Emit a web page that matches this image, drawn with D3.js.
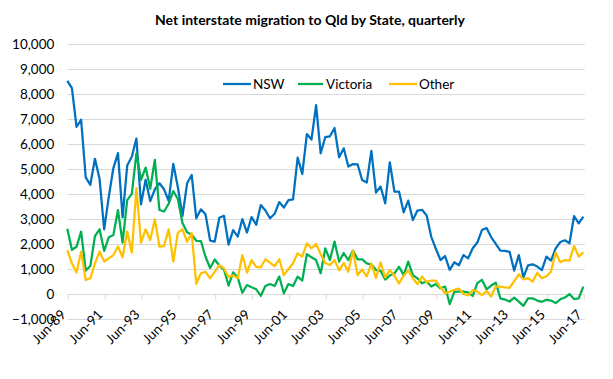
<!DOCTYPE html>
<html>
<head>
<meta charset="utf-8">
<script src="https://cdn.jsdelivr.net/npm/d3@7"></script>
<style>
  html, body { margin: 0; padding: 0; background: #fff; }
  svg { display: block; }
  text { font-family: Lato, "Open Sans", "Liberation Sans", sans-serif; fill: #000; }
</style>
</head>
<body>
<div id="chart"></div>
<script>
// ---------- DATA ----------
const title = "Net interstate migration to Qld by State, quarterly";
const seriesNames = ["NSW", "Victoria", "Other"];
const seriesColors = ["#0070C0", "#00B050", "#FFC000"];

// quarterly categories Jun-89 .. Jun-17
const monthNames = ["Mar", "Jun", "Sep", "Dec"];
const categories = [];
for (let y = 1989, q = 1; !(y === 2017 && q === 2); ) {
  categories.push(monthNames[q] + "-" + String(y % 100).padStart(2, "0"));
  q++; if (q === 4) { q = 0; y++; }
}
categories.push("Jun-17");

const tickLabels = ["Jun-89","Jun-91","Jun-93","Jun-95","Jun-97","Jun-99","Jun-01","Jun-03",
                    "Jun-05","Jun-07","Jun-09","Jun-11","Jun-13","Jun-15","Jun-17"];
const yTicks = [-1000,0,1000,2000,3000,4000,5000,6000,7000,8000,9000,10000];

const nsw = [8540,8250,6700,6980,4680,4380,5420,4620,2600,3900,
             5050,5650,3080,5150,5500,6230,3600,4580,3730,4200,
             4440,4200,3740,5220,4280,3140,4440,4770,3040,3400,
             3200,2150,2110,3060,3140,1990,2570,2310,3010,2470,
             3090,2780,3570,3350,3040,3220,3690,3470,3770,3800,
             5470,4810,6410,6190,7570,5640,6290,6320,6650,5480,
             5840,5110,5210,5200,4570,4470,5740,4070,4310,3640,
             5280,4110,4110,3280,3750,2970,3350,3380,3150,2300,
             1820,1370,1530,980,1280,1160,1570,1440,1840,2070,
             2570,2650,2290,2020,1750,1740,1700,950,1570,680,
             1160,1200,1110,970,1510,1350,1840,2090,2160,2040,
             3130,2840,3110];

const victoria = [2620,1780,1900,2510,950,1130,2330,2600,1740,2280,
                  2370,3370,2070,3770,4020,5640,4580,5070,4220,5380,
                  3370,3310,3620,4130,3810,2850,2480,2380,2140,2130,
                  1500,1050,1390,1150,990,350,880,660,60,370,
                  280,200,-60,330,410,330,710,40,410,330,
                  710,550,1610,1480,1370,840,1840,1370,2110,1310,
                  1650,1370,1750,1400,1400,1240,1190,970,940,590,
                  750,840,1100,770,1310,770,640,440,510,310,
                  410,240,310,-390,100,110,110,80,-60,450,
                  580,200,350,460,-160,-210,-290,-130,-290,-460,
                  -160,-160,-250,-300,-220,-250,-350,-200,-130,10,
                  -190,-160,310];

const other = [1770,1240,870,1710,570,640,1240,1710,1310,1440,
               1570,1910,1480,2510,1670,4250,2070,2600,2170,3000,
               1910,1930,2600,1310,2470,2600,2100,2440,420,840,
               900,640,900,1170,1040,680,770,640,1570,870,
               1370,1100,1080,1400,1270,1130,1400,770,1000,1240,
               1640,1510,2040,1840,2010,1600,1250,1170,1370,960,
               1250,900,1750,770,990,720,1230,650,1280,680,
               970,740,440,740,950,640,410,710,480,550,
               550,280,50,100,180,230,10,-50,170,110,
               -30,130,-90,320,310,280,260,530,800,600,
               650,510,850,640,720,910,1670,1280,1370,1350,
               1930,1510,1680];

const seriesValues = [nsw, victoria, other];

// ---------- LAYOUT ----------
const W = 613, H = 379;
const plotLeft = 67.3, plotRight = 583.3, plotTop = 44.3, plotBottom = 319.3;

const svg = d3.select("#chart").append("svg").attr("width", W).attr("height", H);

const x = d3.scalePoint().domain(categories).range([plotLeft, plotRight]);
const y = d3.scaleLinear().domain([-1000, 10000]).range([plotBottom, plotTop]);

// gridlines
svg.append("g").selectAll("line").data(yTicks).join("line")
  .attr("x1", plotLeft).attr("x2", plotRight + 1.5)
  .attr("y1", d => Math.round(y(d)) + 0.5).attr("y2", d => Math.round(y(d)) + 0.5)
  .attr("stroke", "#d9d9d9").attr("stroke-width", 1);

// y axis labels
const yAxis = d3.axisLeft(y).tickValues(yTicks).tickSize(0).tickPadding(0)
  .tickFormat(d => d3.format(",")(d));
const yg = svg.append("g").attr("transform", `translate(${plotLeft - 13},0)`).call(yAxis);
yg.select(".domain").remove();
yg.selectAll("text").attr("font-size", 13.5).attr("font-family", "Lato, sans-serif").attr("fill", "#000");

// x axis at zero
const xAxis = d3.axisBottom(x).tickValues(tickLabels).tickSize(5).tickPadding(2);
const xg = svg.append("g").attr("transform", `translate(0,${Math.round(y(0)) + 0.5})`).call(xAxis);
xg.select(".domain").attr("stroke", "#d9d9d9").attr("d", `M${plotLeft},0H${plotRight + 1.5}`);
xg.selectAll(".tick line").attr("stroke", "#d9d9d9").attr("transform", "translate(0.5,0)");
xg.selectAll(".tick text")
  .attr("font-size", 13.5).attr("font-family", "Lato, sans-serif").attr("fill", "#000")
  .attr("text-anchor", "end")
  .attr("x", 0).attr("y", 0).attr("dy", 0)
  .attr("transform", "translate(-1,21) rotate(-45)");

// lines
const line = d3.line().x((d, i) => x(categories[i])).y(d => y(d));
svg.append("g").selectAll("path").data(seriesValues).join("path")
  .attr("d", d => line(d))
  .attr("fill", "none")
  .attr("stroke", (d, i) => seriesColors[i])
  .attr("stroke-width", 2.25)
  .attr("stroke-linejoin", "round");

// title
svg.append("text").attr("x", 310).attr("y", 25)
  .attr("text-anchor", "middle").attr("font-size", 14).attr("font-weight", "bold")
  .text(title);

// legend
const legendItems = [
  { x1: 223, x2: 251, tx: 253 },
  { x1: 298, x2: 323, tx: 326 },
  { x1: 389, x2: 417, tx: 419 }
];
const lg = svg.append("g");
seriesNames.forEach((name, i) => {
  const it = legendItems[i];
  lg.append("line").attr("x1", it.x1).attr("x2", it.x2).attr("y1", 84).attr("y2", 84)
    .attr("stroke", seriesColors[i]).attr("stroke-width", 2.25);
  lg.append("text").attr("x", it.tx).attr("y", 84).attr("dy", "0.35em")
    .attr("font-size", 13.5).text(name);
});
</script>
</body>
</html>
